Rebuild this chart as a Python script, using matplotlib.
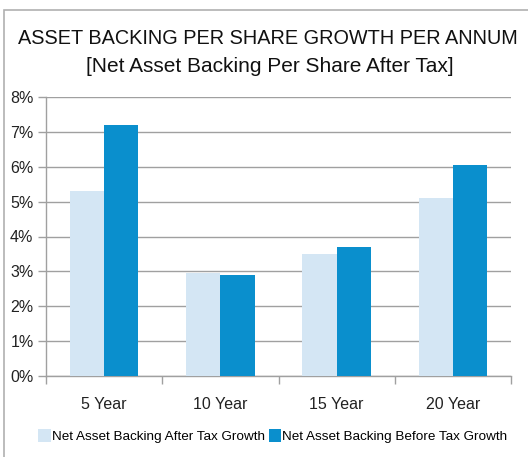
import matplotlib.pyplot as plt
import numpy as np
from matplotlib.patches import Rectangle

plt.rcParams["font.family"] = ["Liberation Sans", "DejaVu Sans"]

categories = ["5 Year", "10 Year", "15 Year", "20 Year"]
after_tax = [5.3, 2.95, 3.5, 5.1]
before_tax = [7.2, 2.9, 3.7, 6.05]
series_names = ["Net Asset Backing After Tax Growth", "Net Asset Backing Before Tax Growth"]
yticks = [0, 1, 2, 3, 4, 5, 6, 7, 8]

light = "#d4e6f4"
dark = "#0a8fcd"
grey = "#a0a0a0"

fig = plt.figure(figsize=(5.28, 4.57), dpi=100)
fig.patches.append(Rectangle((4 / 528, -0.1), 1.2, 1 - 10 / 457 + 0.1, transform=fig.transFigure,
                             fill=False, edgecolor="#b0b0b0", linewidth=1.2))
ax = fig.add_axes([46 / 528, 1 - 376 / 457, 465 / 528, 279 / 457])

x = np.arange(len(categories))
w = 0.295
ax.bar(x - w / 2, after_tax, w, color=light, label=series_names[0], zorder=3)
ax.bar(x + w / 2, before_tax, w, color=dark, label=series_names[1], zorder=3)

ax.set_xlim(-0.5, len(categories) - 0.5)
ax.set_ylim(0, 8)
ax.set_yticks(yticks)
ax.set_yticklabels([f"{v}%" for v in yticks], fontsize=11.5, color="#222222")
ax.yaxis.grid(True, color=grey, linewidth=1)
ax.set_xticks(np.arange(len(categories) + 1) - 0.5)
ax.set_xticklabels([])
ax.set_xticks(x, minor=True)
ax.set_xticklabels(categories, minor=True, fontsize=11.5, color="#222222")
ax.tick_params(axis="x", which="major", length=6, color=grey, width=1)
ax.tick_params(axis="x", which="minor", length=0, pad=15)
ax.tick_params(axis="y", length=6, color=grey, width=1, pad=3)
for s in ["top", "right"]:
    ax.spines[s].set_visible(False)
for s in ["left", "bottom"]:
    ax.spines[s].set_color(grey)
    ax.spines[s].set_linewidth(1)

fig.text(268 / 528, 1 - 38 / 457, "ASSET BACKING PER SHARE GROWTH PER ANNUM", ha="center", va="center",
         fontsize=14.3, color="#111111")
fig.text(270 / 528, 1 - 66 / 457, "[Net Asset Backing Per Share After Tax]", ha="center", va="center",
         fontsize=15, color="#111111")

fig.legend(loc="center", bbox_to_anchor=(273 / 528, 1 - 436 / 457), ncol=2, frameon=False, fontsize=9.7,
           handlelength=0.9, handleheight=1.1, handletextpad=0.1, columnspacing=0.3)

fig.savefig("out.png", dpi=100)
